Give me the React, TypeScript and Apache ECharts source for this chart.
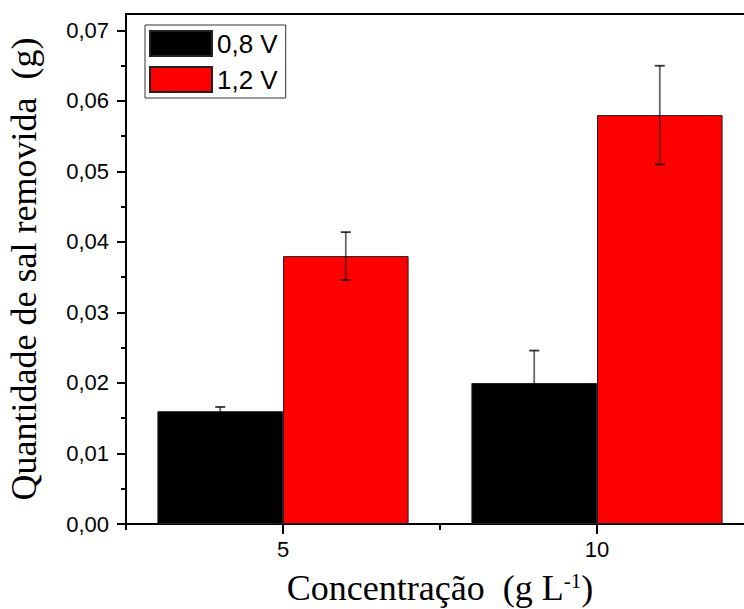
import React, { useEffect, useRef } from "react";
import * as echarts from "echarts";

const categories = ["5", "10"];
const seriesNames = ["0,8 V", "1,2 V"];
const values08 = [0.016, 0.02];
const values12 = [0.038, 0.058];
const errors08 = [0.0006, 0.0046];
const errors12 = [0.0034, 0.007];
const yMajorTicks = [0, 0.01, 0.02, 0.03, 0.04, 0.05, 0.06, 0.07];
const yMinorTicks = [0.005, 0.015, 0.025, 0.035, 0.045, 0.055, 0.065];
const xLabelPositions = [1, 3];
const xMinorPositions = [0, 2, 4];

const SANS = "'Liberation Sans', Arial, sans-serif";
const SERIF = "'Liberation Serif', 'Times New Roman', serif";

export default function App() {
  const ref = useRef<HTMLDivElement>(null);
  useEffect(() => {
    document.body.style.margin = "0";
    if (!ref.current) return;
    const chart = echarts.init(ref.current, undefined, { renderer: "svg" });

    const errData = (vals: number[], errs: number[], side: number) =>
      vals.map((v, i) => [i, v, errs[i], side]);

    const option: any = {
      animation: false,
      backgroundColor: "#fff",
      grid: {
        left: 126,
        top: 14,
        bottom: 85,
        right: -10,
        outerBoundsMode: "none",
        containLabel: false,
        show: true,
        borderColor: "#000",
        borderWidth: 2,
        backgroundColor: "transparent",
      },
      legend: {
        orient: "vertical",
        left: 145,
        top: 25,
        padding: [5, 8, 5, 4],
        borderColor: "#333",
        borderWidth: 1,
        itemGap: 9,
        itemWidth: 62,
        itemHeight: 25,
        icon: "rect",
        textStyle: { fontFamily: SANS, fontSize: 26, color: "#000" },
        data: seriesNames,
      },
      xAxis: [
        {
          type: "category",
          data: categories,
          show: false,
        },
        {
          type: "value",
          min: 0,
          max: 4,
          interval: 1,
          position: "bottom",
          axisLine: { show: true, lineStyle: { color: "#000", width: 2 } },
          axisTick: {
            show: true,
            length: 10,
            lineStyle: { color: "#000", width: 2 },
            customValues: xLabelPositions,
          },
          axisLabel: {
            customValues: xLabelPositions,
            formatter: (v: number) => categories[xLabelPositions.indexOf(Math.round(v))] ?? "",
            fontFamily: SANS,
            fontSize: 22,
            color: "#000",
            margin: 14,
          },
          splitLine: { show: false },
          name: "{a|Concentração  (g L}{b|-1}{a|)}",
          nameLocation: "middle",
          nameGap: 46,
          nameTextStyle: {
            rich: {
              a: { fontFamily: SERIF, fontSize: 36, color: "#000" },
              b: { fontFamily: SERIF, fontSize: 21, color: "#000", verticalAlign: "top", lineHeight: 36 },
            },
          },
        },
        {
          type: "value",
          min: 0,
          max: 4,
          interval: 1,
          position: "bottom",
          axisLine: { show: false },
          axisTick: {
            show: true,
            length: 6,
            lineStyle: { color: "#000", width: 2 },
            customValues: xMinorPositions,
          },
          axisLabel: { show: false },
          splitLine: { show: false },
        },
      ],
      yAxis: [
        {
          type: "value",
          min: 0,
          max: 0.07234,
          position: "left",
          axisLine: { show: true, lineStyle: { color: "#000", width: 2 } },
          axisTick: {
            show: true,
            length: 9,
            lineStyle: { color: "#000", width: 2 },
            customValues: yMajorTicks,
          },
          axisLabel: {
            customValues: yMajorTicks,
            formatter: (v: number) => v.toFixed(2).replace(".", ","),
            fontFamily: SANS,
            fontSize: 22,
            color: "#000",
            margin: 17,
          },
          splitLine: { show: false },
          name: "Quantidade de sal removida  (g)",
          nameLocation: "middle",
          nameGap: 84,
          nameRotate: 90,
          nameTextStyle: { fontFamily: SERIF, fontSize: 36, color: "#000" },
        },
        {
          type: "value",
          min: 0,
          max: 0.07234,
          position: "left",
          axisLine: { show: false },
          axisTick: {
            show: true,
            length: 5,
            lineStyle: { color: "#000", width: 2 },
            customValues: yMinorTicks,
          },
          axisLabel: { show: false },
          splitLine: { show: false },
        },
      ],
      series: [
        {
          name: seriesNames[0],
          type: "bar",
          xAxisIndex: 0,
          yAxisIndex: 0,
          data: values08,
          barWidth: "40%",
          barGap: "0%",
          itemStyle: { color: "#000", borderColor: "#222", borderWidth: 1 },
        },
        {
          name: seriesNames[1],
          type: "bar",
          xAxisIndex: 0,
          yAxisIndex: 0,
          data: values12,
          barWidth: "40%",
          barGap: "0%",
          itemStyle: { color: "#ff0000", borderColor: "#222", borderWidth: 1 },
        },
        {
          type: "custom",
          xAxisIndex: 0,
          yAxisIndex: 0,
          z: 5,
          silent: true,
          data: [...errData(values08, errors08, -1), ...errData(values12, errors12, 1)],
          renderItem: (params: any, api: any) => {
            const cat = api.value(0);
            const val = api.value(1);
            const err = api.value(2);
            const side = api.value(3);
            const band = api.size([1, 0])[0];
            const off = side * band * 0.2;
            const top = api.coord([cat, val + err]);
            const bot = api.coord([cat, val - err]);
            const x = top[0] + off;
            const cap = 5;
            const st = { stroke: "rgba(0,0,0,0.6)", lineWidth: 1.8 };
            const capSt = { stroke: "rgba(0,0,0,0.8)", lineWidth: 1.8 };
            return {
              type: "group",
              children: [
                { type: "line", shape: { x1: x, y1: top[1], x2: x, y2: bot[1] }, style: st },
                { type: "line", shape: { x1: x - cap, y1: top[1], x2: x + cap, y2: top[1] }, style: capSt },
                { type: "line", shape: { x1: x - cap, y1: bot[1], x2: x + cap, y2: bot[1] }, style: capSt },
              ],
            };
          },
        },
      ],
    };
    chart.setOption(option);
    return () => chart.dispose();
  }, []);
  return <div ref={ref} style={{ width: 744, height: 609 }} />;
}
